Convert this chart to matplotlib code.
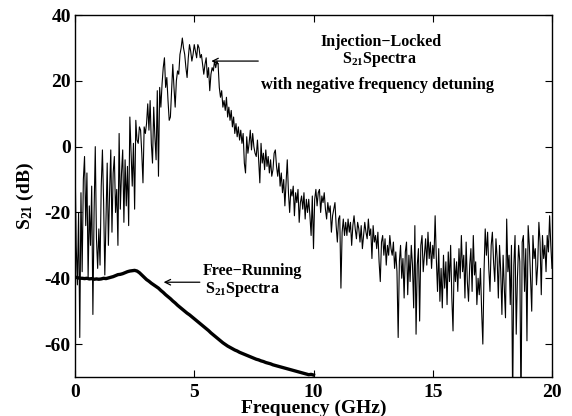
import numpy as np
import matplotlib
matplotlib.use("Agg")
import matplotlib.pyplot as plt

plt.rcParams['font.family'] = ['Liberation Serif', 'DejaVu Serif']
plt.rcParams['font.weight'] = 'bold'
plt.rcParams['axes.unicode_minus'] = False
plt.rcParams['mathtext.fontset'] = 'custom'
plt.rcParams['mathtext.rm'] = 'Liberation Serif:bold'
plt.rcParams['mathtext.bf'] = 'Liberation Serif:bold'
plt.rcParams['mathtext.it'] = 'Liberation Serif:bold'

# Injection-locked S21 spectrum, 0 to 20 GHz in 0.05 GHz steps
locked_freq = np.arange(401) * 0.05
locked_db = [
    -2, -30, -42, -20, -58, -14, -38, -10, -3, -24, -8, -40, -18, -30, -12, -51, -20, 0, -28, -37,
    -25, -36, -12, -1, -17, -39, -22, -5, -30, -14, -1, -26, -8, -3, -20, -13, -30, 4, -19, -8,
    -1, -23, -4, -18, -6, -24, 9, -2, -12, 1, -19, 8, 2, 1, 6, 5, -2, -11, 6, 4,
    7, 13, 5, 14, 1, -5, 12, 3, -4, 17, -9, 18, 12, 19, 24, 27, 18, 21, 14, 8,
    9, 17, 25, 18, 12, 20, 23, 22, 28, 30, 33, 30, 28, 24, 21, 27, 31, 29, 26, 28,
    31, 29, 27, 31, 30, 27, 28, 25, 22, 25, 27, 21, 24, 17, 22, 24, 23, 26, 24, 26,
    25, 18, 15, 17, 12, 14, 11, 15, 9, 12, 8, 11, 6, 9, 4, 7, 3, 6, 2, 5,
    1, 4, -5, -8, 3, -2, 1, 5, -1, 4, 0, -2, -3, 2, -4, -11, 1, -5, -2, -7,
    -1, -6, -3, -8, -4, -9, -7, -2, -1, -6, -9, -5, -12, -8, -14, -10, -18, -11, -4, -14,
    -20, -13, -15, -12, -21, -14, -17, -13, -23, -17, -15, -19, -14, -22, -16, -20, -16, -21, -27, -15,
    -31, -16, -13, -18, -14, -13, -20, -15, -17, -14, -19, -22, -17, -20, -18, -26, -21, -19, -17, -24,
    -29, -22, -21, -43, -26, -22, -27, -23, -27, -22, -26, -23, -30, -24, -21, -25, -28, -23, -25, -29,
    -24, -31, -27, -23, -26, -28, -22, -27, -25, -34, -24, -29, -27, -31, -26, -35, -41, -29, -27, -33,
    -28, -36, -30, -33, -27, -31, -33, -29, -37, -32, -38, -58, -35, -30, -40, -34, -46, -32, -29, -45,
    -33, -41, -30, -36, -49, -24, -57, -36, -31, -53, -30, -27, -38, -33, -28, -36, -26, -34, -29, -37,
    -30, -34, -21, -34, -44, -31, -47, -37, -49, -33, -43, -35, -48, -32, -41, -30, -46, -56, -34, -41,
    -35, -44, -31, -40, -27, -38, -33, -46, -29, -41, -47, -36, -31, -44, -27, -39, -35, -48, -40, -45,
    -37, -50, -60, -38, -25, -33, -26, -37, -44, -30, -26, -35, -41, -28, -34, -46, -30, -38, -51, -33,
    -43, -52, -22, -38, -33, -48, -30, -78, -36, -27, -57, -40, -30, -35, -80, -29, -27, -44, -31, -59,
    -24, -30, -40, -50, -27, -34, -31, -42, -36, -23, -29, -45, -27, -34, -30, -38, -27, -32, -21, -30,
    -37,
]

# Free-running S21 spectrum, 0.1 to 10 GHz in 0.1 GHz steps
free_freq = np.arange(1, 101) * 0.1
free_db = [
    -39.8, -40.0, -40.0, -40.1, -40.0, -40.2, -40.1, -40.3, -40.2, -40.3,
    -40.2, -40.0, -40.1, -39.9, -39.7, -39.5, -39.2, -38.9, -38.8, -38.6,
    -38.3, -38.0, -37.8, -37.7, -37.6, -37.8, -38.3, -39.0, -39.7, -40.4,
    -40.9, -41.5, -42.0, -42.5, -43.0, -43.7, -44.3, -45.0, -45.6, -46.2,
    -46.9, -47.5, -48.2, -48.8, -49.4, -50.0, -50.6, -51.1, -51.7, -52.3,
    -52.9, -53.5, -54.1, -54.7, -55.3, -55.9, -56.6, -57.2, -57.8, -58.4,
    -59.0, -59.6, -60.1, -60.6, -61.0, -61.4, -61.8, -62.1, -62.5, -62.8,
    -63.1, -63.4, -63.7, -64.0, -64.3, -64.6, -64.8, -65.1, -65.3, -65.6,
    -65.8, -66.0, -66.3, -66.5, -66.7, -66.9, -67.1, -67.3, -67.5, -67.7,
    -67.9, -68.1, -68.3, -68.5, -68.7, -68.9, -69.1, -69.3, -69.2, -69.4,
]

x_ticks = [0, 5, 10, 15, 20]
y_ticks = [-60, -40, -20, 0, 20, 40]

fig = plt.figure(figsize=(5.72, 4.16), dpi=100)
ax = fig.add_axes([75/572, 39/416, 477/572, 362/416])

ax.plot(locked_freq, locked_db, color='black', lw=0.8)
ax.plot(free_freq, free_db, color='black', lw=2.4)

ax.set_xlim(0, 20)
ax.set_ylim(-70, 40)
ax.set_xticks(x_ticks)
ax.set_yticks(y_ticks)
ax.tick_params(direction='in', top=True, right=True, length=5, width=0.8,
               labelsize=14)
ax.tick_params(axis='y', pad=3)
ax.tick_params(axis='x', pad=5)
for lab in ax.get_xticklabels() + ax.get_yticklabels():
    lab.set_fontweight('bold')
for s in ax.spines.values():
    s.set_linewidth(1.0)

ax.set_xlabel('Frequency (GHz)', fontsize=14, fontweight='bold', labelpad=-1)
ax.set_ylabel(r'S$_{\mathbf{21}}$ (dB)', fontsize=14, fontweight='bold', labelpad=6)

tfs = 11.5
ax.text(12.85, 31.8, 'Injection\u2212Locked', ha='center', va='center', fontsize=tfs, fontweight='bold')
ax.text(12.75, 26.4, r'S$_{\mathbf{21}}$Spectra', ha='center', va='center', fontsize=tfs, fontweight='bold')
ax.text(12.7, 18.8, 'with negative frequency detuning', ha='center', va='center', fontsize=11.8, fontweight='bold')
ax.annotate('', xy=(5.6, 26), xytext=(7.8, 26),
            arrowprops=dict(arrowstyle='->', color='black', lw=0.9))

ax.text(7.42, -37.7, 'Free\u2212Running', ha='center', va='center', fontsize=tfs, fontweight='bold')
ax.text(7.0, -43.3, r'S$_{\mathbf{21}}$Spectra', ha='center', va='center', fontsize=tfs, fontweight='bold')
ax.annotate('', xy=(3.6, -41.2), xytext=(5.35, -41.2),
            arrowprops=dict(arrowstyle='->', color='black', lw=0.9))

fig.savefig('out.png', dpi=100)
